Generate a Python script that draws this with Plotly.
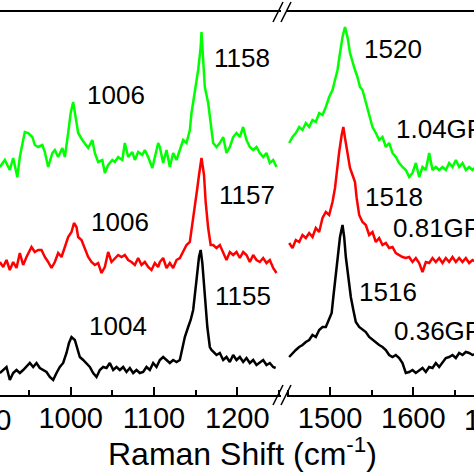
import plotly.graph_objects as go

FONT = "Liberation Sans, Arial, sans-serif"

# ---------------- data (Raman shift in cm^-1, intensity in a.u.) ----------------
green_left_wn = [915,921,927,931,936,939,943,945,949,954,957,961,966,969,973,978,981,985,990,993,
                 997,1000,1003,1006,1009,1014,1017,1021,1026,1029,1033,1038,1041,1045,1050,1053,1057,1062,1065,1069,
                 1074,1077,1081,1086,1089,1093,1098,1101,1105,1107,1111,1115,1119,1123,1127,1131,1135,1139,1143,1145,
                 1149,1153,1156,1157,1159,1161,1165,1169,1171,1175,1179,1183,1187,1191,1195,1199,1203,1207,1211,1215,
                 1219,1223,1227,1231,1235,1239,1243,1247]
green_left_int = [228,235,225,237,218,238,255,263,262,258,250,248,250,243,228,242,245,238,247,238,
                  262,282,293,278,262,255,252,247,255,242,233,235,222,230,235,233,238,235,252,238,
                  243,235,243,240,245,238,227,238,252,248,232,245,228,242,235,245,255,252,265,282,
                  302,325,348,363,335,308,292,265,252,248,252,258,242,248,258,262,258,268,255,248,
                  245,248,242,238,242,232,235,228]

red_left_wn = [915,919,923,927,931,935,939,943,947,953,957,961,965,969,973,977,981,985,989,993,
               997,1001,1004,1007,1009,1013,1017,1021,1025,1029,1033,1037,1041,1045,1049,1053,1057,1061,1065,1069,
               1073,1077,1081,1085,1089,1093,1097,1101,1105,1107,1111,1115,1119,1123,1127,1131,1135,1139,1143,1146,
               1149,1152,1154,1157,1160,1162,1165,1168,1171,1175,1179,1183,1187,1191,1195,1199,1203,1207,1211,1215,
               1219,1223,1227,1231,1235,1239,1243,1247]
red_left_int = [133,128,135,125,133,127,142,130,138,148,143,145,145,138,133,127,133,142,138,148,
                158,163,172,168,158,155,147,138,133,130,132,122,128,143,133,137,140,138,140,135,
                133,130,137,130,133,128,125,132,128,133,137,127,132,127,135,137,143,150,153,173,
                193,207,220,237,220,193,167,150,150,147,150,143,135,143,140,143,137,143,140,133,
                140,135,133,137,132,135,127,122]

black_left_wn = [915,919,923,927,931,935,939,943,947,951,955,959,963,967,971,975,979,983,987,991,
                 995,998,1001,1005,1008,1011,1015,1019,1023,1027,1031,1035,1039,1043,1047,1051,1055,1059,1063,1067,
                 1071,1075,1079,1083,1087,1091,1095,1099,1103,1107,1111,1115,1119,1123,1127,1131,1134,1137,1141,1144,
                 1147,1149,1151,1154,1156,1158,1161,1164,1167,1169,1175,1179,1183,1187,1191,1195,1199,1203,1207,1211,
                 1215,1219,1223,1227,1231,1235,1239,1243,1246]
black_left_int = [22,25,28,15,22,25,22,25,28,32,28,32,27,25,23,18,15,22,28,32,
                  42,52,58,55,45,38,35,32,28,22,18,25,28,27,32,25,28,25,28,23,
                  27,22,25,22,23,28,25,32,28,35,38,35,32,35,33,35,45,58,68,75,
                  85,98,115,138,145,132,98,68,48,45,40,42,35,38,33,40,35,38,33,37,
                  32,35,30,33,35,30,32,28,27]

green_right_wn = [1451,1455,1459,1463,1467,1471,1475,1479,1483,1487,1491,1495,1499,1503,1506,1509,1512,1515,1518,1521,
                  1524,1527,1530,1533,1536,1539,1542,1545,1548,1551,1555,1559,1563,1567,1571,1575,1579,1583,1587,1591,
                  1595,1599,1603,1607,1611,1615,1619,1623,1627,1631,1635,1639,1643,1647,1651,1655,1659,1663,1667,1671,1675]
green_right_int = [252,258,262,268,265,272,268,275,273,282,280,288,298,305,315,325,342,358,368,358,
                   342,332,325,318,308,305,295,288,275,268,262,255,258,248,252,242,238,232,228,225,
                   218,222,232,218,228,225,242,225,228,225,228,225,232,228,235,228,232,225,228,225,228]

red_right_wn = [1451,1455,1459,1463,1467,1471,1475,1479,1483,1487,1491,1495,1499,1503,1506,1508,1511,1514,1516,1518,
                1521,1524,1527,1530,1532,1535,1539,1543,1547,1551,1555,1559,1563,1567,1571,1575,1579,1583,1587,1591,
                1595,1599,1603,1607,1611,1615,1619,1623,1627,1631,1635,1639,1643,1647,1651,1655,1659,1663,1667,1671,1675]
red_right_int = [152,147,155,153,160,157,162,158,167,163,177,183,180,193,207,223,243,260,268,257,
                 243,227,220,213,197,180,173,170,160,163,153,157,150,152,147,148,142,140,138,137,
                 138,133,137,132,123,133,132,137,133,137,132,137,133,138,133,137,133,137,132,135,133]

black_right_wn = [1451,1455,1459,1463,1467,1471,1475,1479,1483,1487,1491,1495,1499,1502,1504,1507,1510,1512,1515,1517,
                  1519,1522,1525,1528,1531,1535,1539,1543,1547,1551,1555,1559,1563,1567,1571,1575,1579,1583,1587,1591,
                  1595,1599,1603,1607,1611,1615,1619,1623,1627,1631,1635,1639,1643,1647,1651,1655,1659,1663,1667,1671,1675]
black_right_int = [38,42,45,48,50,53,55,60,58,65,68,68,77,82,98,122,142,158,170,158,
                   138,115,98,85,73,68,65,63,58,55,52,50,48,45,40,38,40,37,32,22,
                   23,25,22,25,27,23,28,27,32,28,33,37,38,40,37,42,40,43,42,40,41]

# peak labels: (text, x, y, axis)
peak_labels = [
    ("1006", 1054, 300, "x"), ("1158", 1206, 337, "x"), ("1520", 1575, 346, "x2"),
    ("1006", 1059, 173, "x"), ("1157", 1211, 200, "x"), ("1518", 1577, 198, "x2"),
    ("1004", 1057, 69, "x"), ("1155", 1207, 99, "x"), ("1516", 1570, 103, "x2"),
]
pressure_labels = [("1.04GPa", 1577, 266), ("0.81GPa", 1573, 167), ("0.36GPa", 1574, 64)]

GREEN, RED, BLACK = "#00ff00", "#ff0000", "#000000"

fig = go.Figure()
series = [
    (green_left_wn, green_left_int, GREEN, "x"), (green_right_wn, green_right_int, GREEN, "x2"),
    (red_left_wn, red_left_int, RED, "x"), (red_right_wn, red_right_int, RED, "x2"),
    (black_left_wn, black_left_int, BLACK, "x"), (black_right_wn, black_right_int, BLACK, "x2"),
]
for xs, ys, col, ax in series:
    fig.add_trace(go.Scatter(x=xs, y=ys, mode="lines", xaxis=ax, yaxis="y",
                             line=dict(color=col, width=2.5), showlegend=False))

W, H = 474, 474
T, B = 12, 79
plot_h = H - T - B

axis_common = dict(showline=True, linecolor="black", linewidth=1.5, mirror=True,
                   ticks="inside", ticklen=8, tickwidth=1.5, tickcolor="black",
                   tick0=0, dtick=100, showgrid=False, zeroline=False, ticklabelstandoff=-4,
                   minor=dict(ticks="inside", ticklen=5, tickwidth=1.5, tickcolor="black", tick0=0, dtick=50),
                   tickfont=dict(family=FONT, size=29, color="black"), anchor="y")

fig.update_layout(
    width=W, height=H, margin=dict(l=0, r=0, t=T, b=B),
    paper_bgcolor="white", plot_bgcolor="white",
    xaxis=dict(domain=[0, 281 / W], range=[915.2, 1252.4], **axis_common),
    xaxis2=dict(domain=[287 / W, 1], range=[1448.4, 1672.8], **axis_common),
    yaxis=dict(range=[0, 383], visible=False),
)

ann = []
for t, x, y, ax in peak_labels:
    ann.append(dict(text=t, x=x, y=y, xref=ax, yref="y", showarrow=False,
                    xanchor="center", yanchor="middle", font=dict(family=FONT, size=26, color="black")))
for t, x, y in pressure_labels:
    ann.append(dict(text=t, x=x, y=y, xref="x2", yref="y", showarrow=False,
                    xanchor="left", yanchor="middle", font=dict(family=FONT, size=26, color="black")))
# partially visible tick labels at the cropped edges
for t, px in [("900", -12.6), ("1700", 496.7)]:
    ann.append(dict(text=t, x=px / W, y=(395 - 420) / plot_h, xref="paper", yref="paper", showarrow=False,
                    xanchor="center", yanchor="middle", font=dict(family=FONT, size=29, color="black")))
ann.append(dict(text="Raman Shift (cm<sup>-1</sup>)", x=243 / W, y=(395 - 452) / plot_h,
                xref="paper", yref="paper", showarrow=False, xanchor="center", yanchor="middle",
                font=dict(family=FONT, size=32, color="black")))
fig.update_layout(annotations=ann)

# axis break marks
shapes = []
for yc in (395, 12):
    for x0 in (273, 281):
        shapes.append(dict(type="line", xref="paper", yref="paper",
                           x0=x0 / W, x1=(x0 + 10) / W,
                           y0=(395 - (yc + 10)) / plot_h, y1=(395 - (yc - 10)) / plot_h,
                           line=dict(color="black", width=1.5)))
fig.update_layout(shapes=shapes)

fig.write_html("out.html", config={"displayModeBar": False},
               post_script="document.body.style.margin='0';document.body.style.overflow='hidden';")
